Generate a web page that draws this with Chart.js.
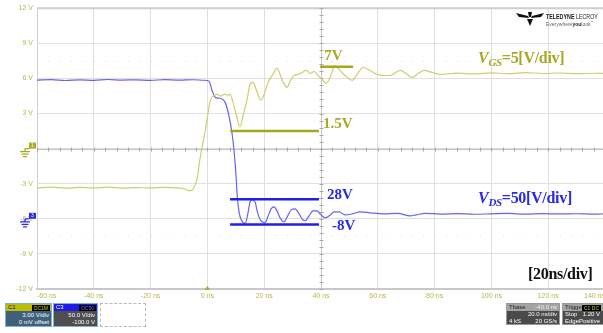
<!DOCTYPE html>
<html>
<head>
<meta charset="utf-8">
<script src="https://cdn.jsdelivr.net/npm/chart.js@4/dist/chart.umd.min.js"></script>
<style>
  html, body { margin: 0; padding: 0; background: #fff; width: 603px; height: 333px; overflow: hidden; }
  #wrap { position: relative; width: 603px; height: 333px; overflow: hidden; }
  #scope { position: absolute; left: 0; top: 0; }
  .lbl { position: absolute; white-space: nowrap; font-family: "Liberation Serif", "Times New Roman", serif; font-weight: bold; line-height: 16px; letter-spacing: -0.3px; }
  .lbl sub { font-size: 11px; font-style: italic; vertical-align: -3px; line-height: 0; }
  .box { position: absolute; font-family: "Liberation Sans", Arial, sans-serif; font-size: 6px; line-height: 7px; color: #fff; box-sizing: border-box; }
  .row { position: relative; height: 7px; padding: 0 2px; }
  .row .l { position: absolute; left: 2px; }
  .row .r { position: absolute; right: 2px; }
  .badge { position: absolute; right: 1px; top: 1px; height: 6px; line-height: 6px; padding: 0 2px; background: #000; font-size: 5px; }
  #logo { position: absolute; left: 516px; top: 12px; }
  .brand { position: absolute; font-family: "Liberation Sans", Arial, sans-serif; white-space: nowrap; transform-origin: 0 0; }
</style>
</head>
<body>
<div id="wrap">
  <canvas id="scope" width="610" height="333"></canvas>

  <div class="lbl" style="left:478px;top:50px;font-size:16px;color:#a8a826;"><i>V</i><sub>GS</sub>=5[V/div]</div>
  <div class="lbl" style="left:478px;top:190px;font-size:16px;color:#2a2ae6;"><i>V</i><sub>DS</sub>=50[V/div]</div>
  <div class="lbl" style="left:528px;top:266px;font-size:16px;color:#111;">[20ns/div]</div>

  <svg id="logo" width="28" height="14" viewBox="0 0 28 14">
    <polygon points="0,1 12,4 13,6 3,5" fill="#111"/>
    <polygon points="28,1 16,4 15,6 25,5" fill="#111"/>
    <polygon points="11,7 17,7 14,14" fill="#111"/>
    <polygon points="12,0 16,0 15,5 13,5" fill="#111"/>
  </svg>
  <div class="brand" style="left:546px;top:13px;font-size:6.5px;font-weight:bold;color:#222;transform:scaleX(0.82);">TELEDYNE <span style="font-weight:normal;">LECROY</span></div>
  <div class="brand" style="left:546px;top:20px;font-size:5px;color:#666;">Everywhere<b style="color:#222;">you</b>look<sup style="font-size:3px;">™</sup></div>

  <!-- channel descriptors -->
  <div class="box" style="left:5px;top:303px;width:47px;height:24px;border:1px solid #7fb0da;background:#3f6079;">
    <div class="row" style="background:#bcbc10;color:#222;"><span class="l">C1</span><span class="badge" style="color:#c8c830;">DC1M</span></div>
    <div class="row" style="margin-top:1px;"><span class="r">3.00 V/div</span></div>
    <div class="row"><span class="r">0 mV offset</span></div>
  </div>
  <div class="box" style="left:53px;top:303px;width:45px;height:24px;border:1px solid #7fb0da;background:#4e4e4e;">
    <div class="row" style="background:#1c1ce4;color:#fff;"><span class="l">C3</span><span class="badge" style="color:#6a6aff;">DC50</span></div>
    <div class="row" style="margin-top:1px;"><span class="r">50.0 V/div</span></div>
    <div class="row"><span class="r">-100.0 V</span></div>
  </div>
  <div class="box" style="left:100px;top:303px;width:46px;height:24px;border:1px dashed #bbb;"></div>

  <div class="box" style="left:506px;top:303px;width:54px;height:22px;background:#4a4a4a;border:1px solid #9a9a9a;">
    <div class="row" style="background:#a3a3a3;color:#222;"><span class="l">Tbase</span><span class="r" style="color:#eee;">-40.0 ns</span></div>
    <div class="row"><span class="r">20.0 ns/div</span></div>
    <div class="row"><span class="l">4 kS</span><span class="r">20 GS/s</span></div>
  </div>
  <div class="box" style="left:562px;top:303px;width:46px;height:22px;background:#4a4a4a;border:1px solid #9a9a9a;">
    <div class="row" style="background:#a3a3a3;color:#222;"><span class="l">Trigger</span><span class="badge" style="color:#c8c830;right:6px;">C1 DC</span></div>
    <div class="row"><span class="l">Stop</span><span class="r" style="right:7px;">1.20 V</span></div>
    <div class="row"><span class="l">Edge</span><span class="r" style="right:7px;">Positive</span></div>
  </div>
</div>

<script>
// Gate-source voltage trace (C1), time in ns, volts
const gsTime = [-60, -55, -50, -45, -40, -35, -30, -25, -20, -15, -11, -8, -6.5, -5.5, -5.0,
  -3.6, -2.6, -1.5, -0.8, -0.1, 0.9, 1.6, 2.7, 3.4, 4.5, 5.2, 6.2, 7.3, 8.0, 9.0, 10.1, 11.5,
  12.6, 14.0, 15.0, 16.1, 17.5, 18.9, 20.0, 21.4, 22.8, 24.5, 25.6, 26.7, 28.1, 29.1, 30.5,
  31.9, 33.3, 34.8, 36.2, 37.6, 39.0, 40.4, 41.8, 43.2, 45.0, 46.7, 49.2, 51.0, 52.7, 54.8,
  57.3, 59.8, 62.2, 64.3, 67.9, 70.0, 72.1, 74.2, 76.3, 79.1, 82.0, 88, 94, 100, 106, 112,
  118, 124, 130, 136, 140];
const gsVolt = [-3.35, -3.30, -3.38, -3.32, -3.36, -3.30, -3.37, -3.33, -3.36, -3.31, -3.35, -3.45, -3.60, -3.55, -3.46,
  -2.54, -0.85, 0.59, 1.44, 2.54, 3.97, 4.39, 4.56, 4.65, 4.48, 4.56, 4.65, 4.56, 4.65, 3.97, 2.96, 1.86,
  2.87, 4.23, 5.49, 5.66, 4.82, 4.14, 4.65, 5.66, 6.25, 6.85, 6.34, 5.66, 5.24, 5.75, 6.25,
  6.34, 6.51, 6.68, 6.42, 6.59, 6.25, 5.92, 5.58, 6.08, 7.10, 6.68, 6.08, 5.83, 6.34, 6.93,
  6.68, 6.34, 6.25, 6.25, 6.68, 6.42, 6.08, 6.42, 6.68, 6.51, 6.34, 6.45, 6.38, 6.48, 6.40, 6.50,
  6.42, 6.46, 6.40, 6.44, 6.42];

// Drain-source voltage trace (C3), time in ns, volts
const dsTime = [-60, -55, -50, -45, -40, -35, -30, -25, -20, -15, -10, -5, -1.5, 0.6, 1.6, 2.7,
  4.1, 5.2, 6.2, 7.3, 8.0, 8.7, 9.4, 10.1, 10.5, 11.2, 11.9, 13.3, 14.3, 15.0, 15.7, 16.8,
  17.5, 18.6, 20.3, 21.4, 22.4, 23.5, 24.5, 25.6, 27.0, 28.1, 29.5, 30.9, 32.3, 33.3, 34.4,
  35.8, 37.2, 38.6, 40.0, 41.5, 42.9, 44.6, 46.4, 48.5, 51.0, 53.8, 57.3, 62, 67, 71.4, 73.5,
  76.7, 82, 88, 94, 100, 106, 112, 118, 124, 130, 136, 140];
const dsVolt = [197.5, 198.2, 197.0, 198.0, 197.3, 198.4, 197.6, 198.0, 197.2, 198.3, 197.5, 198.1, 197.4, 195.8, 183.1, 173.2,
  171.8, 170.4, 166.2, 152.1, 138.0, 121.1, 95.8, 60.6, 32.4, 8.5, -1.4, -6.5, 8.5, 23.9, 26.8, 23.9,
  11.3, -1.4, -5.6, 4.2, 14.1, 16.9, 11.3, 1.4, -4.2, 2.8, 12.7, 14.1, 7.0, 0.0, -2.8,
  4.2, 11.3, 11.3, 5.6, 1.4, 4.2, 9.9, 9.9, 5.6, 7.0, 9.9, 8.5, 7.0, 7.6, 4.2, 5.6,
  7.8, 6.8, 7.3, 6.5, 7.1, 7.6, 6.7, 7.3, 6.9, 7.2, 6.6, 7.0];

// Cursor levels: value, start time, end time
const gsLevels = [7, 1.5];
const gsLevelStart = [39.7, 8.0];
const gsLevelEnd = [51.3, 39.3];
const dsLevels = [28, -8];
const dsLevelStart = [8.0, 8.0];
const dsLevelEnd = [39.3, 39.3];

// Screen scales: C1 at 3 V/div, C3 at 50 V/div with -100 V offset, 20 ns/div
const timeRange = [-60, 140];
const gsRange = [-12, 12];
const dsRange = [-100, 300];

const OLIVE_TXT = '#a8a826';
const OLIVE_LINE = '#a6a61c';
const BLUE_TXT = '#2a2ae6';
const BLUE_LINE = '#2020e0';
const AXIS_TXT = '#b6b64c';

const pts = (xs, ys) => xs.map((t, i) => ({ x: t, y: ys[i] }));

const levelSets = [];
gsLevels.forEach((v, i) => levelSets.push({
  data: [{ x: gsLevelStart[i], y: v }, { x: gsLevelEnd[i], y: v }],
  yAxisID: 'y', borderColor: OLIVE_LINE, borderWidth: 2.5, pointRadius: 0, tension: 0
}));
dsLevels.forEach((v, i) => levelSets.push({
  data: [{ x: dsLevelStart[i], y: v }, { x: dsLevelEnd[i], y: v }],
  yAxisID: 'yds', borderColor: BLUE_LINE, borderWidth: 2.5, pointRadius: 0, tension: 0
}));

// Graticule extras: top edge, centre cross with minor ticks, faint dotted rows
const graticule = {
  id: 'graticule',
  beforeDatasetsDraw(chart) {
    const { ctx, chartArea: a, scales: { x, y } } = chart;
    ctx.save();
    ctx.strokeStyle = '#cfcfcf';
    ctx.lineWidth = 2;
    ctx.beginPath(); ctx.moveTo(a.left, a.top); ctx.lineTo(a.right, a.top); ctx.stroke();

    const cy = Math.round(y.getPixelForValue(0)) + 0.5;
    const cx = Math.round(x.getPixelForValue(40)) + 0.5;
    ctx.strokeStyle = '#c2c2c2';
    ctx.lineWidth = 1;
    ctx.beginPath();
    ctx.moveTo(a.left, cy); ctx.lineTo(a.right, cy);
    ctx.moveTo(cx, a.top); ctx.lineTo(cx, a.bottom);
    ctx.stroke();

    ctx.strokeStyle = '#a8a8a8';
    ctx.beginPath();
    for (let t = timeRange[0]; t <= timeRange[1]; t += 4) {
      const px = Math.round(x.getPixelForValue(t)) + 0.5;
      ctx.moveTo(px, cy - 2); ctx.lineTo(px, cy + 2);
    }
    for (let v = gsRange[0]; v <= gsRange[1] + 0.01; v += 0.6) {
      const py = Math.round(y.getPixelForValue(v)) + 0.5;
      ctx.moveTo(cx - 2, py); ctx.lineTo(cx + 2, py);
    }
    ctx.stroke();

    ctx.fillStyle = '#e2e2e2';
    [7.5, -7.5].forEach(v => {
      const py = Math.round(y.getPixelForValue(v));
      for (let t = timeRange[0] + 4; t < timeRange[1]; t += 4) {
        ctx.fillRect(Math.round(x.getPixelForValue(t)), py, 1, 1);
      }
    });

    // channel ground markers on the left edge
    const g1 = y.getPixelForValue(0);
    const g3 = chart.scales.yds.getPixelForValue(0);
    const marker = (py, col, txt) => {
      ctx.fillStyle = col;
      ctx.fillRect(a.left - 8, py - 6, 7, 6);
      ctx.fillStyle = '#fff';
      ctx.font = '5px "Liberation Sans"';
      ctx.textAlign = 'center'; ctx.textBaseline = 'middle';
      ctx.fillText(txt, a.left - 4.5, py - 3);
      ctx.strokeStyle = col; ctx.lineWidth = 1.2;
      const gx = a.left - 12;
      ctx.beginPath();
      ctx.moveTo(gx, py); ctx.lineTo(gx, py + 3);
      ctx.moveTo(gx - 5, py + 3); ctx.lineTo(gx + 5, py + 3);
      ctx.moveTo(gx - 3.5, py + 5.5); ctx.lineTo(gx + 3.5, py + 5.5);
      ctx.moveTo(gx - 2, py + 8); ctx.lineTo(gx + 2, py + 8);
      ctx.moveTo(gx, py); ctx.lineTo(a.left - 8, py);
      ctx.stroke();
    };
    marker(g1, '#a9a920', '1');
    marker(g3, '#2a2ae6', '3');

    // trigger time marker
    const tx = x.getPixelForValue(0);
    ctx.fillStyle = '#b0b030';
    ctx.beginPath();
    ctx.moveTo(tx - 3, a.bottom + 1); ctx.lineTo(tx + 3, a.bottom + 1); ctx.lineTo(tx, a.bottom - 3);
    ctx.closePath(); ctx.fill();
    ctx.restore();
  }
};

// Cursor value labels placed next to their level lines
const levelLabels = {
  id: 'levelLabels',
  afterDatasetsDraw(chart) {
    const { ctx, scales: { x, y, yds } } = chart;
    ctx.save();
    ctx.font = 'bold 15px "Liberation Serif", "Times New Roman", serif';
    ctx.textAlign = 'left';
    ctx.textBaseline = 'alphabetic';
    ctx.fillStyle = OLIVE_TXT;
    ctx.fillText(gsLevels[0] + 'V', x.getPixelForValue(gsLevelStart[0]) + 4, y.getPixelForValue(gsLevels[0]) - 7);
    ctx.fillText(gsLevels[1] + 'V', x.getPixelForValue(gsLevelEnd[1]) + 4, y.getPixelForValue(gsLevels[1]) - 3);
    ctx.fillStyle = BLUE_TXT;
    ctx.fillText(dsLevels[0] + 'V', x.getPixelForValue(dsLevelEnd[0]) + 8, yds.getPixelForValue(dsLevels[0]));
    ctx.fillText(dsLevels[1] + 'V', x.getPixelForValue(dsLevelEnd[1]) + 13, yds.getPixelForValue(dsLevels[1]) + 6);
    ctx.restore();
  }
};

new Chart(document.getElementById('scope'), {
  type: 'line',
  data: {
    datasets: [
      ...levelSets,
      { data: pts(gsTime, gsVolt), yAxisID: 'y', borderColor: 'rgb(206,206,110)', borderWidth: 1.2,
        pointRadius: 0, cubicInterpolationMode: 'monotone' },
      { data: pts(dsTime, dsVolt), yAxisID: 'yds', borderColor: 'rgb(100,100,242)', borderWidth: 1.2,
        pointRadius: 0, cubicInterpolationMode: 'monotone' }
    ]
  },
  options: {
    responsive: false,
    animation: false,
    events: [],
    layout: { padding: { top: 5, right: 5, bottom: 0, left: 0 } },
    plugins: { legend: { display: false }, tooltip: { enabled: false } },
    scales: {
      x: {
        type: 'linear', min: timeRange[0], max: timeRange[1],
        ticks: { stepSize: 20, align: 'inner', autoSkip: false, maxRotation: 0, padding: 3,
          color: AXIS_TXT, font: { family: 'Liberation Sans', size: 7 },
          callback: v => v + ' ns' },
        grid: { color: '#e0e0e0', lineWidth: 1, drawTicks: false },
        border: { color: '#c8c8c8', width: 2 },
        afterFit(s) { s.height = 44; }
      },
      y: {
        type: 'linear', min: gsRange[0], max: gsRange[1],
        ticks: { stepSize: 3, padding: 4, color: AXIS_TXT, font: { family: 'Liberation Sans', size: 7 },
          callback: v => (v === 0 ? '' : v + ' V') },
        grid: { color: '#e0e0e0', lineWidth: 1, drawTicks: false },
        border: { color: '#d0d0d0', width: 1 },
        afterFit(s) { s.width = 37; }
      },
      yds: {
        type: 'linear', min: dsRange[0], max: dsRange[1], display: false
      }
    }
  },
  plugins: [graticule, levelLabels]
});
</script>
</body>
</html>
